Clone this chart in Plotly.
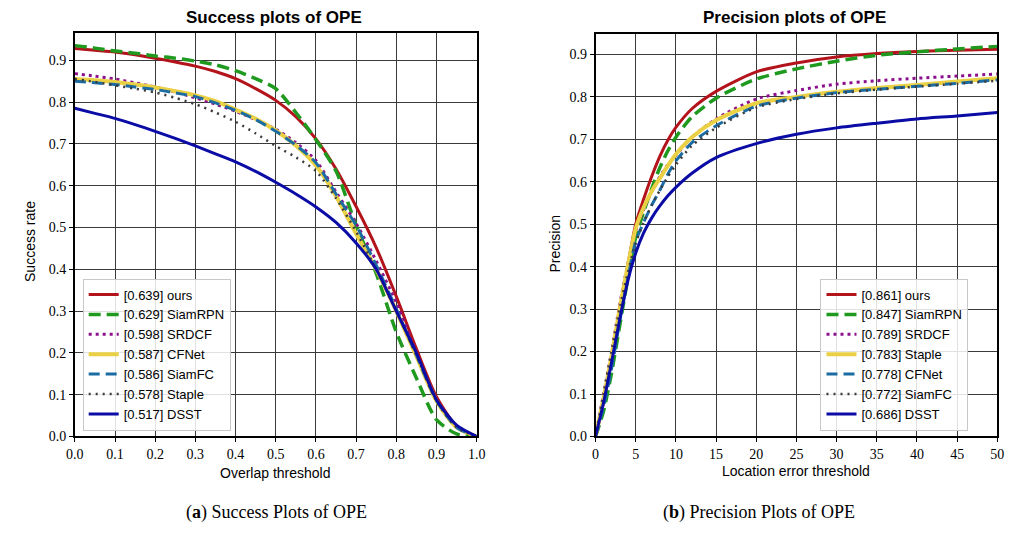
import plotly.graph_objects as go

# ---------------- Data ----------------
overlap_x = [0.0, 0.05, 0.1, 0.15, 0.2, 0.25, 0.3, 0.35, 0.4, 0.45, 0.5,
             0.55, 0.6, 0.65, 0.7, 0.75, 0.8, 0.85, 0.9, 0.95, 1.0]

succ_ours    = [0.928, 0.924, 0.920, 0.913, 0.905, 0.896, 0.886, 0.873, 0.856, 0.832, 0.804,
                0.765, 0.712, 0.640, 0.550, 0.452, 0.335, 0.210, 0.095, 0.025, 0.0]
succ_siamrpn = [0.935, 0.929, 0.922, 0.917, 0.910, 0.905, 0.898, 0.889, 0.875, 0.856, 0.832,
                0.775, 0.710, 0.635, 0.505, 0.390, 0.250, 0.140, 0.040, 0.006, 0.0]
succ_srdcf   = [0.868, 0.862, 0.855, 0.846, 0.836, 0.824, 0.810, 0.795, 0.778, 0.758, 0.735,
                0.703, 0.660, 0.585, 0.510, 0.420, 0.320, 0.200, 0.088, 0.022, 0.0]
succ_cfnet   = [0.855, 0.852, 0.848, 0.842, 0.835, 0.826, 0.816, 0.802, 0.782, 0.760, 0.732,
                0.696, 0.648, 0.575, 0.485, 0.400, 0.300, 0.192, 0.085, 0.022, 0.0]
succ_siamfc  = [0.850, 0.846, 0.842, 0.836, 0.830, 0.822, 0.813, 0.798, 0.780, 0.758, 0.730,
                0.697, 0.655, 0.580, 0.505, 0.410, 0.305, 0.195, 0.086, 0.022, 0.0]
succ_staple  = [0.855, 0.848, 0.840, 0.832, 0.823, 0.810, 0.795, 0.775, 0.753, 0.725, 0.695,
                0.668, 0.635, 0.570, 0.490, 0.400, 0.300, 0.195, 0.085, 0.022, 0.0]
succ_dsst    = [0.785, 0.773, 0.761, 0.746, 0.730, 0.713, 0.695, 0.676, 0.657, 0.634, 0.608,
                0.580, 0.549, 0.512, 0.463, 0.400, 0.300, 0.200, 0.088, 0.027, 0.0]

loc_x = [0, 1, 2, 3, 4, 5, 6, 7, 8, 9, 10, 12, 15, 20, 25, 30, 35, 40, 45, 50]

prec_ours    = [0.0, 0.08, 0.18, 0.29, 0.40, 0.50, 0.560, 0.613, 0.660, 0.698, 0.728, 0.772, 0.813,
                0.859, 0.880, 0.894, 0.902, 0.907, 0.910, 0.912]
prec_siamrpn = [0.0, 0.06, 0.15, 0.26, 0.37, 0.470, 0.530, 0.584, 0.633, 0.673, 0.705, 0.753, 0.797,
                0.842, 0.866, 0.884, 0.898, 0.906, 0.913, 0.919]
prec_srdcf   = [0.0, 0.10, 0.20, 0.31, 0.405, 0.485, 0.535, 0.578, 0.612, 0.640, 0.662, 0.705, 0.748,
                0.795, 0.815, 0.830, 0.838, 0.844, 0.849, 0.854]
prec_staple  = [0.0, 0.09, 0.19, 0.30, 0.40, 0.490, 0.540, 0.578, 0.608, 0.638, 0.665, 0.705, 0.745,
                0.785, 0.800, 0.812, 0.821, 0.828, 0.836, 0.844]
prec_cfnet   = [0.0, 0.07, 0.16, 0.27, 0.37, 0.460, 0.505, 0.545, 0.580, 0.618, 0.649, 0.692, 0.732,
                0.778, 0.797, 0.810, 0.818, 0.825, 0.832, 0.840]
prec_siamfc  = [0.0, 0.10, 0.20, 0.30, 0.385, 0.455, 0.505, 0.545, 0.580, 0.612, 0.640, 0.685, 0.727,
                0.775, 0.795, 0.808, 0.817, 0.824, 0.831, 0.838]
prec_dsst    = [0.0, 0.08, 0.175, 0.275, 0.365, 0.432, 0.480, 0.515, 0.543, 0.567, 0.587, 0.620, 0.657,
                0.690, 0.712, 0.727, 0.738, 0.748, 0.755, 0.763]

succ_names = ["[0.639] ours", "[0.629] SiamRPN", "[0.598] SRDCF", "[0.587] CFNet",
              "[0.586] SiamFC", "[0.578] Staple", "[0.517] DSST"]
prec_names = ["[0.861] ours", "[0.847] SiamRPN", "[0.789] SRDCF", "[0.783] Staple",
              "[0.778] CFNet", "[0.772] SiamFC", "[0.686] DSST"]

# ---------------- Styles ----------------
RED, GREEN, PURPLE = "#b3141c", "#1f9a1f", "#8c0f8c"
YELLOW, TEAL, GRAY, NAVY = "#ead045", "#1b6ca3", "#3c3c3c", "#0b0ba6"

styles = [
    dict(color=RED, width=3, dash="solid"),
    dict(color=GREEN, width=3.5, dash="12px,6px"),
    dict(color=PURPLE, width=3, dash="3px,4px"),
    dict(color=YELLOW, width=4, dash="solid"),
    dict(color=TEAL, width=3, dash="11px,6px"),
    dict(color=GRAY, width=2.5, dash="2px,5px"),
    dict(color=NAVY, width=3, dash="solid"),
]

fig = go.Figure()

succ_series = [succ_ours, succ_siamrpn, succ_srdcf, succ_cfnet, succ_siamfc, succ_staple, succ_dsst]
for name, ys, st in zip(succ_names, succ_series, styles):
    fig.add_trace(go.Scatter(x=overlap_x, y=ys, name=name, mode="lines",
                             line=dict(shape="spline", smoothing=0.7, **st),
                             xaxis="x", yaxis="y", legend="legend"))

prec_series = [prec_ours, prec_siamrpn, prec_srdcf, prec_staple, prec_cfnet, prec_siamfc, prec_dsst]
for name, ys, st in zip(prec_names, prec_series, styles):
    fig.add_trace(go.Scatter(x=loc_x, y=ys, name=name, mode="lines",
                             line=dict(shape="spline", smoothing=0.7, **st),
                             xaxis="x2", yaxis="y2", legend="legend2"))

W, H = 1025, 542
def px_x(p):
    return p / W
def px_y(p):
    return (H - p) / H

tickfont = dict(family="Liberation Serif", size=14, color="black")
axis_common = dict(showgrid=True, gridcolor="#3a3a3a", gridwidth=1, showline=True,
                   linecolor="black", linewidth=1.5, mirror=True, ticks="outside",
                   ticklen=4, tickcolor="black", tickfont=tickfont, zeroline=False)

legend_common = dict(font=dict(family="Liberation Sans", size=13, color="black"),
                     bgcolor="rgba(255,255,255,0.85)", bordercolor="#c8c8c8", borderwidth=1,
                     xanchor="left", yanchor="bottom", tracegroupgap=0, itemwidth=30,
                     traceorder="normal")

fig.update_layout(
    width=W, height=H, margin=dict(l=0, r=0, t=0, b=0),
    paper_bgcolor="white", plot_bgcolor="white",
    xaxis=dict(domain=[px_x(67), px_x(476)], range=[0, 1], tickmode="array",
               tickvals=[i / 10 for i in range(11)],
               ticktext=[f"{i/10:.1f}" for i in range(11)], anchor="y", **axis_common),
    yaxis=dict(domain=[px_y(443), px_y(34)], range=[0, 0.964], tickmode="array",
               tickvals=[i / 10 for i in range(10)],
               ticktext=[f"{i/10:.1f}" for i in range(10)], anchor="x", **axis_common),
    xaxis2=dict(domain=[px_x(597), px_x(1006)], range=[0, 50], tickmode="array",
                tickvals=list(range(0, 51, 5)), ticktext=[str(v) for v in range(0, 51, 5)],
                anchor="y2", **axis_common),
    yaxis2=dict(domain=[px_y(443), px_y(35)], range=[0, 0.947], tickmode="array",
                tickvals=[i / 10 for i in range(10)],
                ticktext=[f"{i/10:.1f}" for i in range(10)], anchor="x2", **axis_common),
    legend=dict(x=px_x(75), y=px_y(437), **legend_common),
    legend2=dict(x=px_x(826), y=px_y(437), **legend_common),
    showlegend=True,
)

sans = "Liberation Sans"
annots = [
    dict(text="<b>Success plots of OPE</b>", x=px_x(270), y=px_y(18), size=17, fam=sans, angle=0),
    dict(text="<b>Precision plots of OPE</b>", x=px_x(800), y=px_y(18), size=17, fam=sans, angle=0),
    dict(text="Overlap threshold", x=px_x(271), y=px_y(480), size=14, fam=sans, angle=0),
    dict(text="Location error threshold", x=px_x(801), y=px_y(478), size=14, fam=sans, angle=0),
    dict(text="Success rate", x=px_x(22), y=px_y(245), size=14, fam=sans, angle=-90),
    dict(text="Precision", x=px_x(556), y=px_y(247), size=14, fam=sans, angle=-90),
    dict(text="(<b>a</b>) Success Plots of OPE", x=px_x(272), y=px_y(520), size=18,
         fam="Liberation Serif", angle=0),
    dict(text="(<b>b</b>) Precision Plots of OPE", x=px_x(763), y=px_y(520), size=18,
         fam="Liberation Serif", angle=0),
]
for a in annots:
    fig.add_annotation(text=a["text"], x=a["x"], y=a["y"], xref="paper", yref="paper",
                       showarrow=False, xanchor="center", yanchor="middle", textangle=a["angle"],
                       font=dict(family=a["fam"], size=a["size"], color="black"))

fig.write_html(
    "out.html",
    config={"displayModeBar": False},
    post_script="document.body.style.margin='0';",
)
